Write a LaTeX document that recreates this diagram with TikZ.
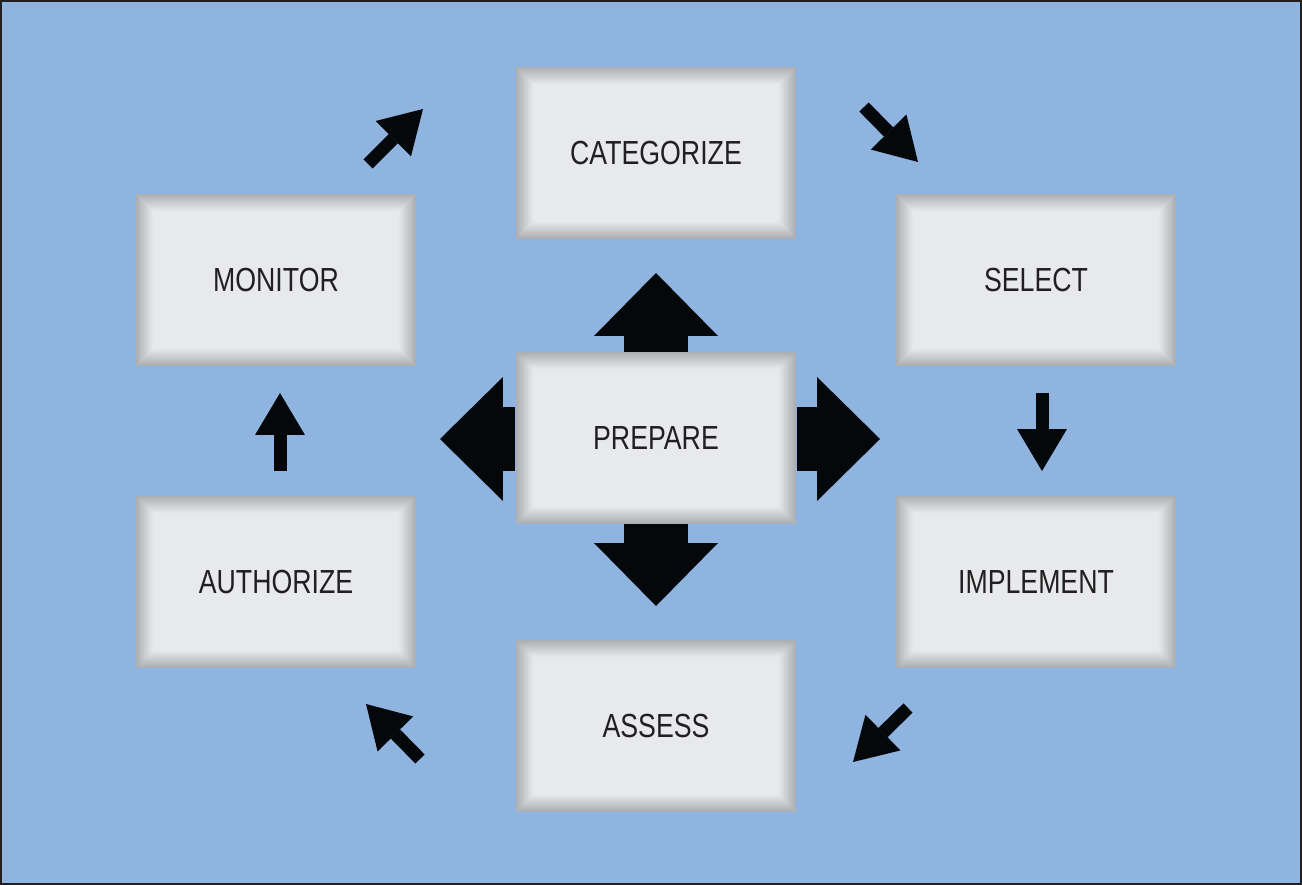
\documentclass[tikz,border=0pt]{standalone}
\usepackage{fontspec}
\usepackage{xcolor}
\usetikzlibrary{arrows.meta,calc}
\newfontfamily\stagefont{Liberation Sans}[FakeStretch=0.8]
\definecolor{bgblue}{HTML}{8FB4E0}
\definecolor{frameclr}{HTML}{231F20}
\definecolor{edgeclr}{HTML}{ADAEB1}
\definecolor{faceclr}{HTML}{E8E9EC}
\definecolor{txtclr}{HTML}{231F20}
\definecolor{arrclr}{HTML}{05080A}

\begin{document}
\begin{tikzpicture}[x=0.02cm, y=-0.02cm,
  stage/.style={minimum width=5.62cm, minimum height=3.44cm, inner sep=0pt, align=center,
    font=\stagefont\fontsize{19pt}{22pt}\selectfont, text=txtclr,
    path picture={
      \foreach \i in {0,...,17}{
        \pgfmathsetmacro\mixval{100*\i/17}
        \fill[faceclr!\mixval!edgeclr]
          ($(path picture bounding box.south west)+(\i*0.02cm,\i*0.02cm)$) rectangle
          ($(path picture bounding box.north east)-(\i*0.02cm,\i*0.02cm)$);
      }
    }},
  bigarr/.style={arrclr, line width=1.28cm, -{Triangle[length=1.26cm, width=2.48cm, line width=0pt]}},
  smallarr/.style={arrclr, line width=0.26cm, -{Triangle[length=0.84cm, width=1.0cm, line width=0pt]}},
]
  % background and frame
  \useasboundingbox (0,0) rectangle (1302,885);
  \fill[bgblue] (0,0) rectangle (1302,885);
  \draw[frameclr, line width=0.04cm] (1,1) rectangle (1301,884);

  % stages
  \node[stage] (cat)  at (656,153) {CATEGORIZE};
  \node[stage] (mon)  at (276,280) {MONITOR};
  \node[stage] (sel)  at (1036,280) {SELECT};
  \node[stage] (prep) at (656,438) {PREPARE};
  \node[stage] (auth) at (276,582) {AUTHORIZE};
  \node[stage] (impl) at (1036,582) {IMPLEMENT};
  \node[stage] (asse) at (656,726) {ASSESS};

  % big arrows out of PREPARE
  \coordinate (tipN) at (656,273);
  \coordinate (tipS) at (656,606);
  \coordinate (tipW) at (440,439);
  \coordinate (tipE) at (880,439);
  \draw[bigarr] (prep.north) -- (tipN);
  \draw[bigarr] (prep.south) -- (tipS);
  \draw[bigarr] (prep.west |- tipW) -- (tipW);
  \draw[bigarr] (prep.east |- tipE) -- (tipE);

  % cycle arrows
  \coordinate (am1) at (280,471);  \coordinate (am2) at (280,393);
  \coordinate (mc1) at (368,164);  \coordinate (mc2) at (423,109);
  \coordinate (cs1) at (864,107);  \coordinate (cs2) at (918,162);
  \coordinate (si1) at (1042,393); \coordinate (si2) at (1042,471);
  \coordinate (ia1) at (908,708);  \coordinate (ia2) at (853,762);
  \coordinate (aa1) at (420,759);  \coordinate (aa2) at (366,704);
  \draw[smallarr] (am1) -- (am2);
  \draw[smallarr] (mc1) -- (mc2);
  \draw[smallarr] (cs1) -- (cs2);
  \draw[smallarr] (si1) -- (si2);
  \draw[smallarr] (ia1) -- (ia2);
  \draw[smallarr] (aa1) -- (aa2);
\end{tikzpicture}
\end{document}
